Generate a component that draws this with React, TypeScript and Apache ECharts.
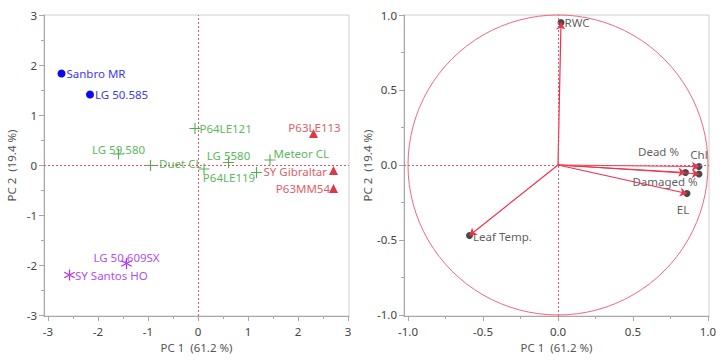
import React, { useEffect, useRef } from "react";
import * as echarts from "echarts";

// ---- Score plot data (left) ----
const genotypes = [
  "Sanbro MR", "LG 50.585", "P64LE121", "P63LE113", "LG 59.580", "Duet CL",
  "P64LE119", "LG 5580", "Meteor CL", "", "SY Gibraltar", "P63MM54",
  "LG 50.609SX", "SY Santos HO",
];
const pc1 = [-2.73, -2.16, -0.06, 2.31, -1.59, -0.95, 0.12, 0.61, 1.44, 1.17, 2.71, 2.71, -1.43, -2.57];
const pc2 = [1.83, 1.41, 0.73, 0.63, 0.22, -0.01, -0.08, 0.05, 0.1, -0.15, -0.11, -0.47, -1.97, -2.2];
const cluster = [1, 1, 2, 3, 2, 2, 2, 2, 2, 2, 3, 3, 4, 4];

// ---- Loading plot data (right) ----
const variables = ["RWC", "Chl", "Dead %", "Damaged %", "EL", "Leaf Temp."];
const load1 = [0.02, 0.94, 0.85, 0.94, 0.86, -0.59];
const load2 = [0.95, -0.01, -0.05, -0.06, -0.19, -0.47];

// ---- Axis ticks ----
const scoreTicks = [-3, -2, -1, 0, 1, 2, 3];
const scoreMinor = [-2.5, -1.5, -0.5, 0.5, 1.5, 2.5];
const loadTicks = [-1, -0.5, 0, 0.5, 1];
const loadMinor = [-0.75, -0.25, 0.25, 0.75];
const xTitle = "PC 1  (61.2 %)";
const yTitle = "PC 2  (19.4 %)";

// ---- Styles (kept apart from data) ----
const plus = "path://M4.5,0H5.5V4.5H10V5.5H5.5V10H4.5V5.5H0V4.5H4.5Z";
const star =
  "path://M4.5,0H5.5V10H4.5Z M9.08,7.93L9.58,7.07L0.92,2.07L0.42,2.93Z M9.58,2.93L9.08,2.07L0.42,7.07L0.92,7.93Z";
const clusterStyle: Record<number, any> = {
  1: { symbol: "circle", size: 8, color: "#0a0aee", label: "#3a3af5" },
  2: { symbol: plus, size: 11, color: "#4caf50", label: "#5cb85c" },
  3: { symbol: "triangle", size: 9, color: "#d93a48", label: "#e0606c" },
  4: { symbol: star, size: 11, color: "#a830f0", label: "#b050f0" },
};
const scoreLabel: Record<string, any> = {
  "Sanbro MR": { position: "right", distance: 1 },
  "LG 50.585": { position: "right", distance: 1 },
  "P64LE121": { position: "right", distance: -1 },
  "P63LE113": { position: "inside", offset: [1, -6] },
  "LG 59.580": { position: "inside", offset: [0, -5] },
  "Duet CL": { position: "right", distance: 3, offset: [0, -2] },
  "P64LE119": { position: "inside", offset: [25, 8] },
  "LG 5580": { position: "inside", offset: [0, -7] },
  "Meteor CL": { position: "right", distance: -2, offset: [0, -7] },
  "SY Gibraltar": { position: "left", distance: 2, offset: [0, 1] },
  "P63MM54": { position: "left", distance: -1 },
  "LG 50.609SX": { position: "inside", offset: [0, -6] },
  "SY Santos HO": { position: "right", distance: 0 },
};
const loadLabel: Record<string, any> = {
  "RWC": { position: "right", distance: 0 },
  "Chl": { position: "inside", offset: [0, -12] },
  "Dead %": { position: "inside", offset: [-27, -21] },
  "Damaged %": { position: "inside", offset: [-34, 8] },
  "EL": { position: "inside", offset: [-4, 16] },
  "Leaf Temp.": { position: "right", distance: 0, offset: [0, 1.5] },
};

const FONT = "'Noto Sans', sans-serif";
const FS = 11.5;
const RED = "#f0506a";

function mainAxis(dim: "x" | "y", grid: number, min: number, max: number, ticks: number[], fmt: (v: number) => string) {
  return {
    type: "value",
    gridIndex: grid,
    min,
    max,
    position: dim === "x" ? "bottom" : "left",
    name: dim === "x" ? xTitle : yTitle,
    nameLocation: "middle",
    nameGap: dim === "x" ? 24 : 27,
    nameTextStyle: { color: "#555", fontSize: FS, fontFamily: FONT },
    splitLine: { show: false },
    axisLine: { show: true, onZero: false, lineStyle: { color: "#a8a8a8", width: 1 } },
    axisTick: { show: true, customValues: ticks, length: 5, lineStyle: { color: "#a8a8a8" } },
    axisLabel: {
      customValues: ticks,
      formatter: fmt,
      color: "#444",
      fontSize: FS,
      fontFamily: FONT,
      margin: dim === "x" ? 9 : 7,
      showMinLabel: true,
      showMaxLabel: true,
    },
  };
}
function minorAxis(dim: "x" | "y", grid: number, min: number, max: number, ticks: number[]) {
  return {
    type: "value",
    gridIndex: grid,
    min,
    max,
    position: dim === "x" ? "bottom" : "left",
    splitLine: { show: false },
    axisLine: { show: false, onZero: false },
    axisTick: { show: true, customValues: ticks, length: 3, lineStyle: { color: "#a8a8a8" } },
    axisLabel: { show: false },
  };
}

const zeroLines = {
  silent: true,
  symbol: "none",
  label: { show: false },
  emphasis: { disabled: true },
  lineStyle: { color: RED, type: [2, 2], width: 1, opacity: 1 },
  data: [{ xAxis: 0 }, { yAxis: 0 }],
};

export default function App() {
  const ref = useRef<HTMLDivElement>(null);
  useEffect(() => {
    if (!ref.current) return;
    const chart = echarts.init(ref.current, undefined, { renderer: "svg" });

    const scoreSeries = [1, 2, 3, 4].map((c, si) => {
      const st = clusterStyle[c];
      const data = genotypes
        .map((g, i) => ({ g, i }))
        .filter((d) => cluster[d.i] === c)
        .map(({ g, i }) => ({
          name: g,
          value: [pc1[i], pc2[i]],
          label: g ? { show: true, ...scoreLabel[g] } : { show: false },
        }));
      return {
        type: "scatter",
        xAxisIndex: 0,
        yAxisIndex: 0,
        symbol: st.symbol,
        symbolSize: st.size,
        itemStyle: { color: st.color, opacity: 1 },
        label: {
          show: true,
          formatter: "{b}",
          color: st.label,
          fontSize: FS,
          fontFamily: FONT,
        },
        emphasis: { disabled: true },
        data,
        markLine: si === 0 ? zeroLines : undefined,
        z: 3,
      };
    });

    const option: any = {
      animation: false,
      grid: [
        { left: 44, top: 15, width: 305, height: 301, show: true, borderColor: "#cfcfcf", borderWidth: 1, backgroundColor: "transparent" },
        { left: 404, top: 15, width: 305, height: 301, show: true, borderColor: "#cfcfcf", borderWidth: 1, backgroundColor: "transparent" },
      ],
      xAxis: [
        mainAxis("x", 0, -3.08, 3.02, scoreTicks, (v) => String(v)),
        minorAxis("x", 0, -3.08, 3.02, scoreMinor),
        mainAxis("x", 1, -1.0267, 1.0067, loadTicks, (v) => v.toFixed(1)),
        minorAxis("x", 1, -1.0267, 1.0067, loadMinor),
      ],
      yAxis: [
        mainAxis("y", 0, -3.02, 3, scoreTicks, (v) => String(v)),
        minorAxis("y", 0, -3.02, 3, scoreMinor),
        mainAxis("y", 1, -1.0067, 1, loadTicks, (v) => v.toFixed(1)),
        minorAxis("y", 1, -1.0067, 1, loadMinor),
      ],
      series: [
        ...scoreSeries,
        {
          type: "custom",
          xAxisIndex: 2,
          yAxisIndex: 2,
          silent: true,
          data: [[0, 0]],
          renderItem: (params: any, api: any) => {
            const c = api.coord([api.value(0), api.value(1)]);
            const r = api.size([1, 1]);
            return {
              type: "circle",
              shape: { cx: c[0], cy: c[1], r: r[0] },
              style: { fill: "none", stroke: "#f2687a", lineWidth: 1 },
            };
          },
          markLine: zeroLines,
          z: 1,
        },
        {
          type: "scatter",
          xAxisIndex: 2,
          yAxisIndex: 2,
          symbol: "circle",
          symbolSize: 7,
          itemStyle: { color: "#1c1c1c" },
          label: { show: true, formatter: "{b}", color: "#333", fontSize: FS, fontFamily: FONT },
          emphasis: { disabled: true },
          data: variables.map((v, i) => ({
            name: v,
            value: [load1[i], load2[i]],
            label: { show: true, ...loadLabel[v] },
          })),
          z: 3,
        },
        {
          type: "lines",
          coordinateSystem: "cartesian2d",
          xAxisIndex: 2,
          yAxisIndex: 2,
          symbol: ["none", "arrow"],
          symbolSize: 7,
          silent: true,
          lineStyle: { color: "#f0304a", width: 1.2, opacity: 1 },
          data: variables.map((v, i) => ({ coords: [[0, 0], [load1[i], load2[i]]] })),
          z: 4,
        },
      ],
    };
    chart.setOption(option);
    return () => chart.dispose();
  }, []);
  return (
    <div
      ref={ref}
      style={{ position: "fixed", left: 0, top: 0, width: 723, height: 361, background: "#fff" }}
    />
  );
}
